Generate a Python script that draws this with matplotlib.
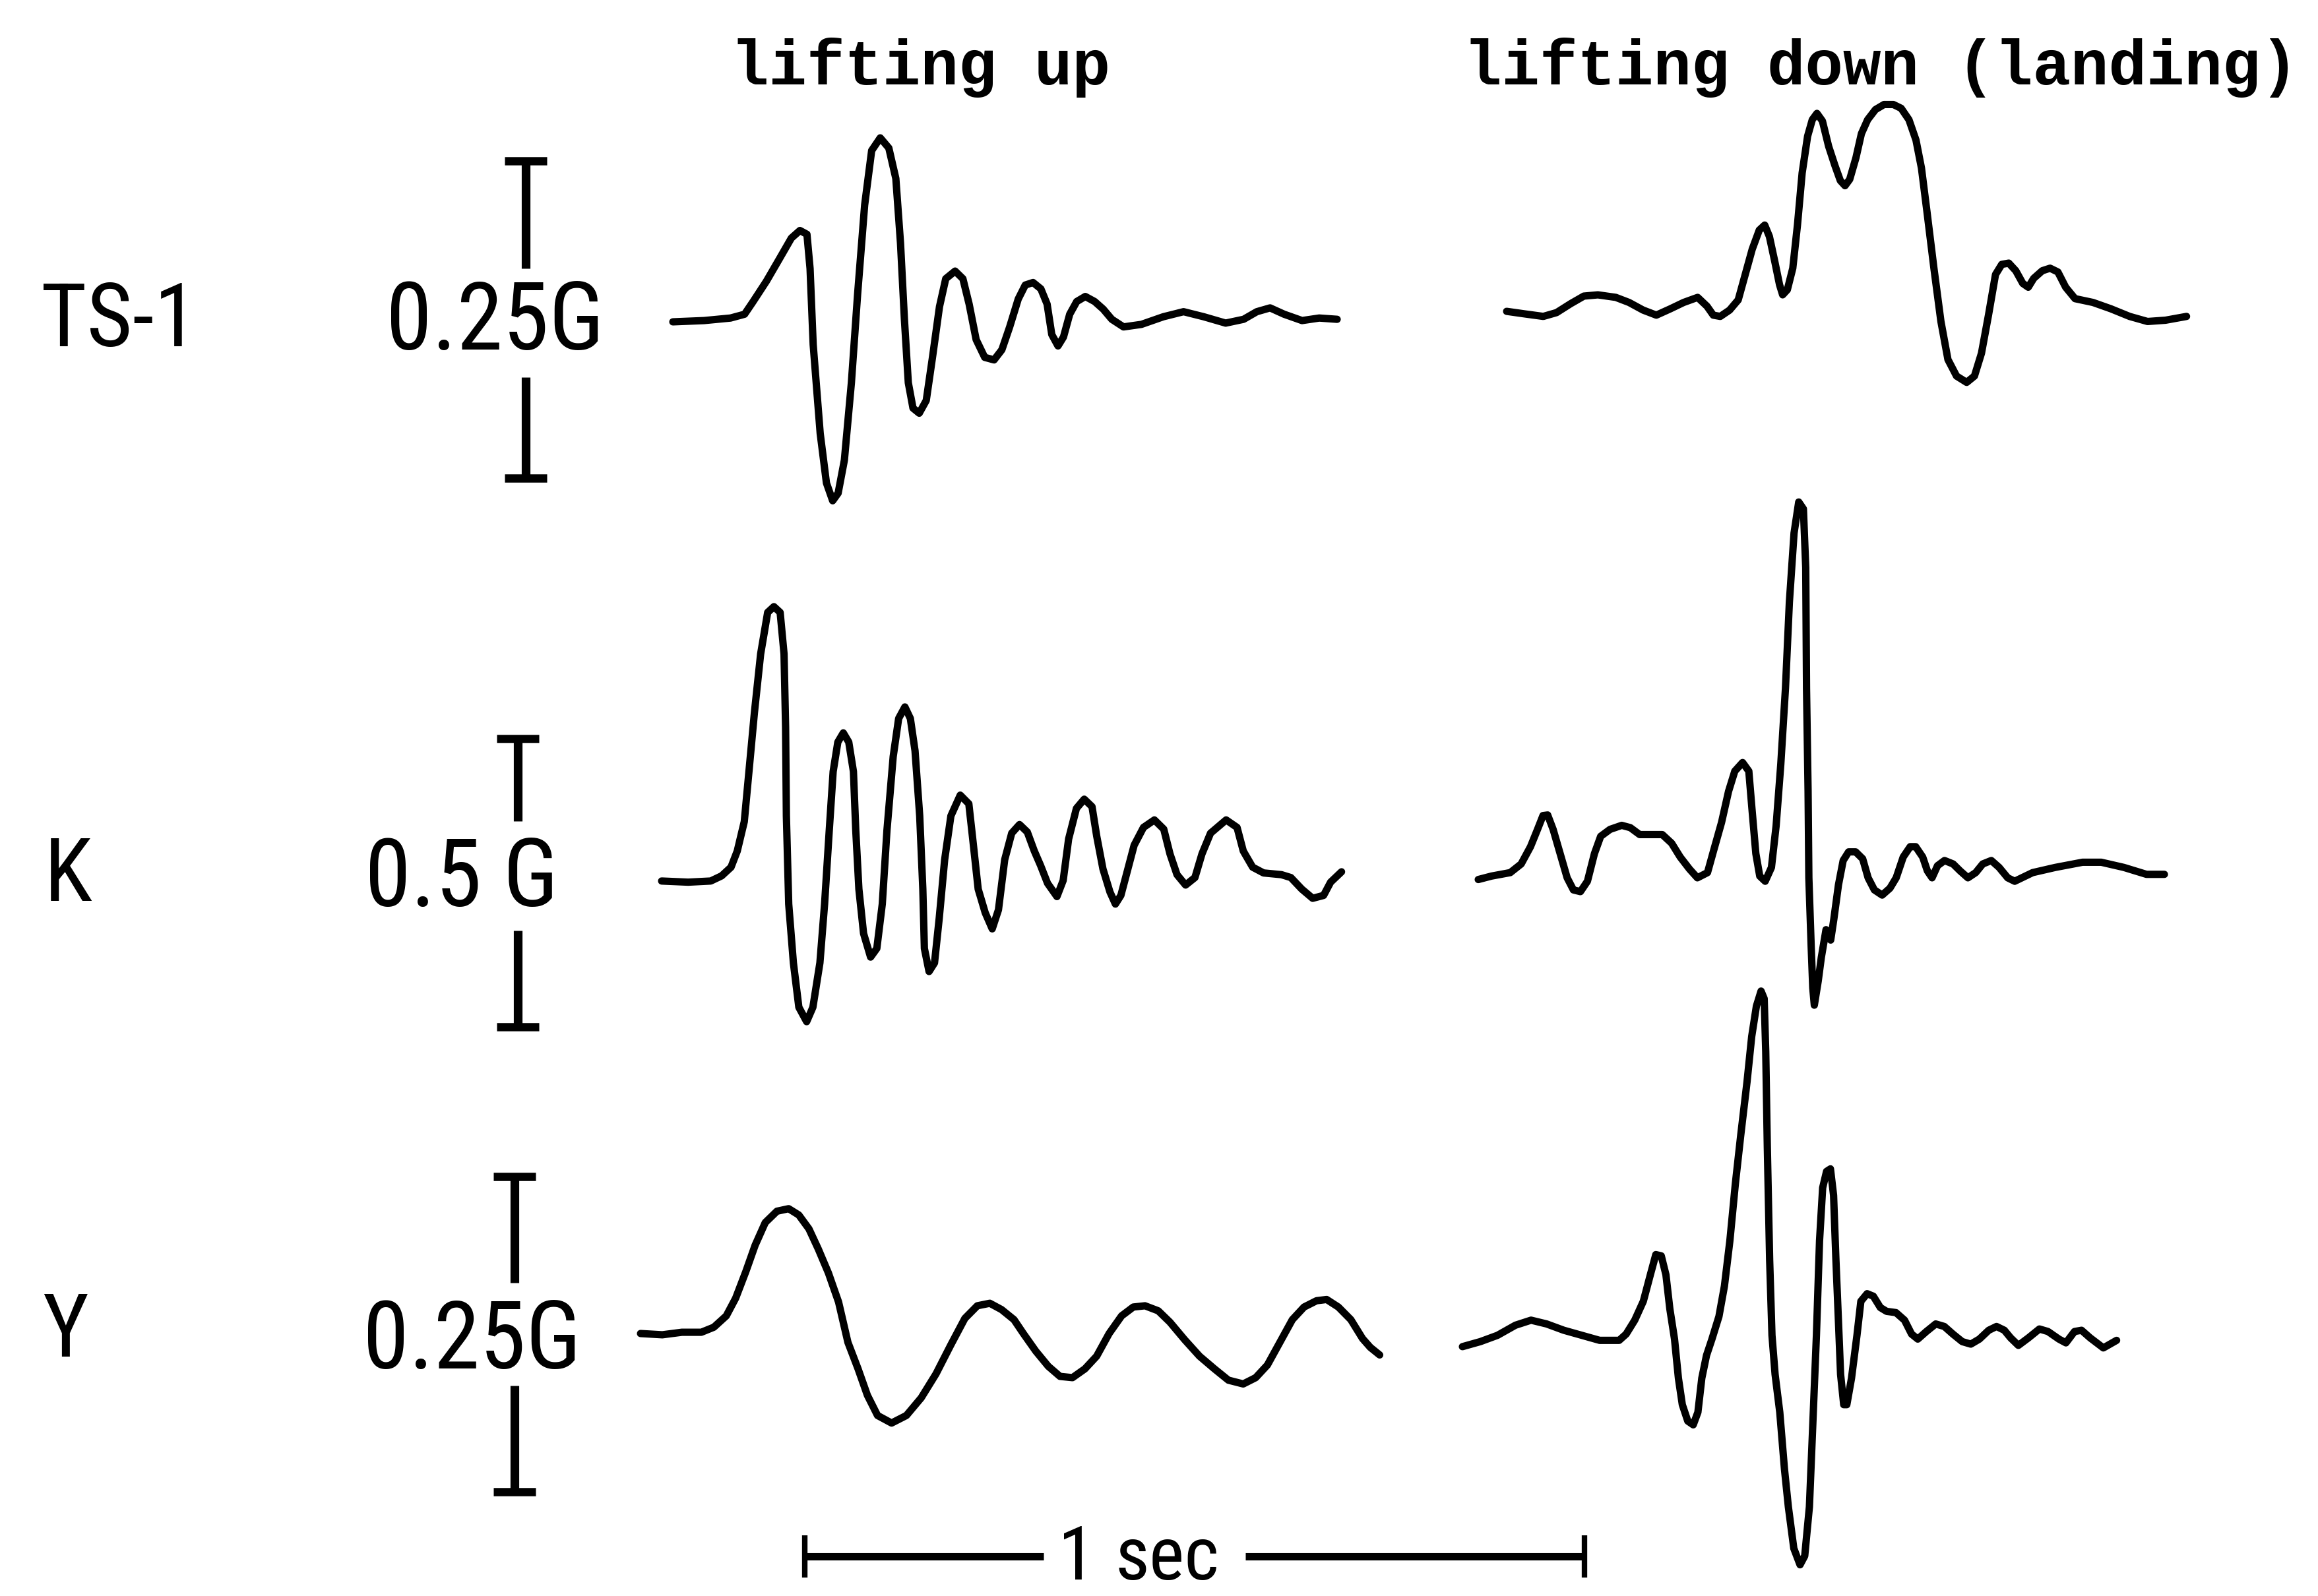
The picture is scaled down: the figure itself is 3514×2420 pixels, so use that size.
import numpy as np
import matplotlib
matplotlib.use("Agg")
import matplotlib.pyplot as plt
from matplotlib import font_manager as fm

# Acceleration records.
# time in s from the start of each trace, acceleration in G from its zero line

ts1_up_t = [0.000, 0.040, 0.074, 0.092, 0.103, 0.120, 0.137, 0.152, 0.163, 0.172,
            0.176, 0.180, 0.189, 0.197, 0.205, 0.212, 0.220, 0.229, 0.237, 0.246,
            0.255, 0.266, 0.277, 0.286, 0.292, 0.297, 0.302, 0.308, 0.316, 0.325,
            0.333, 0.342, 0.350, 0.362, 0.372, 0.380, 0.389, 0.400, 0.412, 0.422,
            0.432, 0.443, 0.452, 0.462, 0.472, 0.480, 0.486, 0.494, 0.501, 0.509,
            0.518, 0.529, 0.541, 0.552, 0.563, 0.578, 0.601, 0.629, 0.655, 0.681,
            0.709, 0.732, 0.749, 0.766, 0.784, 0.807, 0.829, 0.852]
ts1_up_g = [0.000, 0.001, 0.003, 0.006, 0.016, 0.032, 0.050, 0.066, 0.072, 0.069,
            0.042, -0.018, -0.088, -0.127, -0.141, -0.135, -0.109, -0.048, 0.022, 0.092,
            0.135, 0.145, 0.137, 0.113, 0.062, 0.002, -0.048, -0.068, -0.072, -0.062,
            -0.028, 0.012, 0.034, 0.040, 0.034, 0.014, -0.014, -0.028, -0.030, -0.022,
            -0.004, 0.018, 0.029, 0.031, 0.026, 0.014, -0.010, -0.019, -0.012, 0.006,
            0.016, 0.020, 0.016, 0.010, 0.002, -0.004, -0.002, 0.004, 0.008, 0.004,
            -0.001, 0.002, 0.008, 0.011, 0.006, 0.001, 0.003, 0.002]

ts1_down_t = [0.000, 0.023, 0.047, 0.064, 0.082, 0.099, 0.117, 0.140, 0.157, 0.175,
              0.192, 0.210, 0.227, 0.245, 0.257, 0.265, 0.274, 0.286, 0.297, 0.306,
              0.315, 0.324, 0.331, 0.337, 0.344, 0.350, 0.354, 0.360, 0.367, 0.373,
              0.379, 0.386, 0.392, 0.398, 0.405, 0.413, 0.421, 0.428, 0.434, 0.440,
              0.448, 0.455, 0.463, 0.473, 0.484, 0.496, 0.506, 0.516, 0.525, 0.532,
              0.539, 0.548, 0.557, 0.566, 0.577, 0.590, 0.600, 0.609, 0.618, 0.627,
              0.635, 0.644, 0.653, 0.662, 0.669, 0.676, 0.687, 0.697, 0.707, 0.717,
              0.729, 0.752, 0.775, 0.799, 0.822, 0.845, 0.872]
ts1_down_g = [0.001, -0.001, -0.003, 0.000, 0.007, 0.013, 0.014, 0.012, 0.008, 0.002,
              -0.002, 0.003, 0.008, 0.012, 0.005, -0.002, -0.003, 0.002, 0.010, 0.030,
              0.050, 0.065, 0.069, 0.060, 0.040, 0.022, 0.014, 0.018, 0.035, 0.069,
              0.110, 0.139, 0.152, 0.157, 0.151, 0.131, 0.116, 0.104, 0.100, 0.105,
              0.122, 0.141, 0.152, 0.160, 0.164, 0.164, 0.161, 0.152, 0.136, 0.114,
              0.080, 0.035, -0.007, -0.037, -0.050, -0.055, -0.050, -0.032, -0.002, 0.030,
              0.038, 0.039, 0.033, 0.023, 0.020, 0.027, 0.033, 0.035, 0.032, 0.020,
              0.011, 0.008, 0.003, -0.003, -0.007, -0.006, -0.003]

k_up_t = [0.000, 0.034, 0.063, 0.077, 0.089, 0.097, 0.106, 0.112, 0.119, 0.127,
          0.136, 0.144, 0.152, 0.157, 0.159, 0.160, 0.163, 0.169, 0.176, 0.186,
          0.194, 0.203, 0.209, 0.215, 0.220, 0.226, 0.233, 0.240, 0.246, 0.249,
          0.253, 0.259, 0.268, 0.276, 0.283, 0.289, 0.297, 0.304, 0.312, 0.319,
          0.325, 0.331, 0.335, 0.337, 0.343, 0.350, 0.356, 0.363, 0.371, 0.383,
          0.394, 0.399, 0.406, 0.415, 0.424, 0.432, 0.440, 0.449, 0.459, 0.469,
          0.478, 0.486, 0.495, 0.507, 0.515, 0.522, 0.532, 0.542, 0.552, 0.558,
          0.566, 0.575, 0.582, 0.589, 0.598, 0.606, 0.618, 0.632, 0.644, 0.652,
          0.661, 0.672, 0.684, 0.693, 0.704, 0.724, 0.738, 0.746, 0.758, 0.772,
          0.795, 0.807, 0.821, 0.835, 0.849, 0.858, 0.872]
k_up_g = [-0.001, -0.003, -0.001, 0.008, 0.023, 0.051, 0.102, 0.189, 0.291, 0.393,
          0.465, 0.475, 0.465, 0.393, 0.266, 0.112, -0.041, -0.143, -0.220, -0.245,
          -0.220, -0.143, -0.041, 0.087, 0.189, 0.240, 0.256, 0.240, 0.189, 0.087,
          -0.015, -0.092, -0.133, -0.118, -0.041, 0.087, 0.215, 0.281, 0.301, 0.281,
          0.225, 0.112, -0.015, -0.118, -0.158, -0.143, -0.066, 0.036, 0.112, 0.148,
          0.133, 0.072, -0.015, -0.056, -0.084, -0.051, 0.036, 0.082, 0.097, 0.084,
          0.051, 0.026, -0.005, -0.028, 0.000, 0.072, 0.125, 0.141, 0.128, 0.077,
          0.020, -0.020, -0.041, -0.026, 0.020, 0.061, 0.092, 0.105, 0.089, 0.046,
          0.010, -0.008, 0.005, 0.046, 0.082, 0.105, 0.092, 0.051, 0.023, 0.013,
          0.010, 0.005, -0.015, -0.031, -0.026, -0.003, 0.015]

k_down_t = [0.000, 0.017, 0.041, 0.055, 0.067, 0.076, 0.083, 0.089, 0.096, 0.105,
            0.114, 0.122, 0.131, 0.140, 0.149, 0.157, 0.169, 0.184, 0.195, 0.207,
            0.222, 0.236, 0.248, 0.259, 0.271, 0.281, 0.294, 0.302, 0.312, 0.321,
            0.329, 0.339, 0.347, 0.351, 0.356, 0.361, 0.368, 0.376, 0.382, 0.388,
            0.394, 0.399, 0.405, 0.411, 0.417, 0.420, 0.421, 0.423, 0.424, 0.427,
            0.429, 0.431, 0.436, 0.440, 0.446, 0.452, 0.456, 0.462, 0.468, 0.475,
            0.484, 0.493, 0.500, 0.508, 0.518, 0.528, 0.536, 0.545, 0.554, 0.561,
            0.570, 0.576, 0.582, 0.589, 0.598, 0.609, 0.618, 0.628, 0.638, 0.647,
            0.658, 0.668, 0.679, 0.688, 0.711, 0.740, 0.775, 0.799, 0.828, 0.857,
            0.880]
k_down_g = [-0.003, 0.003, 0.009, 0.024, 0.054, 0.084, 0.108, 0.109, 0.084, 0.042,
            0.000, -0.021, -0.024, -0.006, 0.042, 0.072, 0.084, 0.091, 0.087, 0.075,
            0.075, 0.075, 0.060, 0.036, 0.015, 0.000, 0.009, 0.048, 0.096, 0.150,
            0.185, 0.200, 0.185, 0.120, 0.042, 0.003, -0.006, 0.018, 0.090, 0.197,
            0.329, 0.478, 0.598, 0.652, 0.640, 0.538, 0.329, 0.150, 0.000, -0.120,
            -0.191, -0.221, -0.179, -0.138, -0.090, -0.108, -0.072, -0.012, 0.030, 0.045,
            0.045, 0.033, 0.000, -0.021, -0.030, -0.018, 0.000, 0.036, 0.054, 0.054,
            0.036, 0.012, 0.000, 0.021, 0.030, 0.024, 0.012, 0.000, 0.009, 0.024,
            0.030, 0.018, 0.000, -0.006, 0.009, 0.018, 0.027, 0.027, 0.018, 0.006,
            0.006]

y_up_t = [0.000, 0.028, 0.053, 0.078, 0.094, 0.110, 0.122, 0.135, 0.147, 0.160,
          0.175, 0.190, 0.203, 0.216, 0.228, 0.241, 0.254, 0.266, 0.279, 0.291,
          0.304, 0.322, 0.341, 0.360, 0.379, 0.398, 0.416, 0.432, 0.448, 0.463,
          0.479, 0.491, 0.507, 0.523, 0.538, 0.554, 0.570, 0.585, 0.601, 0.617,
          0.632, 0.647, 0.664, 0.679, 0.698, 0.717, 0.736, 0.754, 0.773, 0.789,
          0.804, 0.820, 0.836, 0.851, 0.867, 0.880, 0.895, 0.911, 0.926, 0.936,
          0.948]
y_up_g = [0.000, -0.001, 0.001, 0.001, 0.005, 0.014, 0.028, 0.049, 0.070, 0.088,
          0.097, 0.099, 0.094, 0.083, 0.067, 0.048, 0.025, -0.007, -0.028, -0.049,
          -0.065, -0.071, -0.065, -0.051, -0.032, -0.009, 0.012, 0.022, 0.024, 0.019,
          0.011, 0.000, -0.014, -0.026, -0.034, -0.035, -0.028, -0.018, 0.000, 0.014,
          0.021, 0.022, 0.018, 0.009, -0.005, -0.018, -0.028, -0.037, -0.040, -0.035,
          -0.025, -0.007, 0.011, 0.021, 0.026, 0.027, 0.021, 0.011, -0.004, -0.011,
          -0.017]

y_down_t = [0.000, 0.023, 0.045, 0.068, 0.088, 0.108, 0.130, 0.153, 0.176, 0.201,
            0.210, 0.221, 0.232, 0.241, 0.248, 0.255, 0.261, 0.266, 0.272, 0.277,
            0.282, 0.289, 0.296, 0.302, 0.307, 0.313, 0.320, 0.329, 0.336, 0.343,
            0.350, 0.357, 0.365, 0.371, 0.377, 0.383, 0.387, 0.389, 0.391, 0.394,
            0.397, 0.401, 0.407, 0.413, 0.418, 0.425, 0.433, 0.439, 0.445, 0.449,
            0.454, 0.458, 0.462, 0.467, 0.472, 0.476, 0.479, 0.482, 0.485, 0.489,
            0.493, 0.499, 0.506, 0.511, 0.519, 0.527, 0.536, 0.544, 0.556, 0.567,
            0.576, 0.584, 0.595, 0.607, 0.618, 0.629, 0.641, 0.652, 0.663, 0.675,
            0.685, 0.695, 0.703, 0.713, 0.726, 0.740, 0.751, 0.765, 0.774, 0.785,
            0.794, 0.805, 0.822, 0.839]
y_down_g = [-0.001, 0.003, 0.008, 0.016, 0.020, 0.017, 0.012, 0.008, 0.004, 0.004,
            0.009, 0.020, 0.035, 0.056, 0.072, 0.071, 0.056, 0.029, 0.005, -0.026,
            -0.047, -0.060, -0.063, -0.053, -0.026, -0.008, 0.005, 0.023, 0.047, 0.083,
            0.128, 0.167, 0.209, 0.245, 0.269, 0.281, 0.275, 0.233, 0.158, 0.068,
            0.008, -0.023, -0.053, -0.098, -0.128, -0.161, -0.174, -0.167, -0.128, -0.068,
            0.008, 0.083, 0.125, 0.138, 0.140, 0.119, 0.068, 0.023, -0.023, -0.047,
            -0.047, -0.026, 0.008, 0.035, 0.041, 0.039, 0.030, 0.027, 0.026, 0.020,
            0.009, 0.005, 0.011, 0.017, 0.015, 0.009, 0.003, 0.001, 0.005, 0.012,
            0.015, 0.012, 0.006, 0.000, 0.006, 0.013, 0.011, 0.005, 0.002, 0.011,
            0.012, 0.006, -0.002, 0.004]

row_names = ["TS-1", "K", "Y"]
row_scale_g = [0.25, 0.5, 0.25]
row_scale_labels = ["0.25G", "0.5 G", "0.25G"]
column_titles = ["lifting up", "lifting down (landing)"]
time_bar_s = 1.0

# ---- layout (pixels of the 3514 x 2420 page) ----
W, H = 3514, 2420
px_per_s = 1182.0
row_base = [485, 1338, 2023]          # zero line of each row
row_bar_px = [481, 437, 478]          # length of the G scale bar
row_bar_x = [797, 785, 780]
row_gap = [(407, 572), (1245, 1411), (1945, 2101)]   # where the bar breaks for its label
# (row, t, g, start x, own zero line)
traces = [
    (0, ts1_up_t, ts1_up_g, 1020, 488),
    (0, ts1_down_t, ts1_down_g, 2284, 474),
    (1, k_up_t, k_up_g, 1003, 1335),
    (1, k_down_t, k_down_g, 2241, 1331),
    (2, y_up_t, y_up_g, 971, 2022),
    (2, y_down_t, y_down_g, 2217, 2040),
]


def pick_narrow_font():
    # the lettering is a tall narrow sans; use whatever condensed face is installed
    names = {f.name for f in fm.fontManager.ttflist}
    for n in ["Liberation Sans Narrow", "Arial Narrow", "Roboto Condensed",
              "Noto Sans Condensed", "Open Sans Condensed", "DejaVu Sans Condensed"]:
        if n in names:
            return n, "normal"
    for want in ("condensed", "semi-condensed", "extra-condensed"):
        for f in fm.fontManager.ttflist:
            if (f.stretch == want and f.style == "normal"
                    and str(f.weight) in ("400", "normal", "regular", "book")
                    and "Mono" not in f.name and "Serif" not in f.name):
                return f.name, f.stretch
    return "DejaVu Sans", "normal"


label_family, label_stretch = pick_narrow_font()
label_font = [label_family, "DejaVu Sans"]
title_font = ["Liberation Mono", "DejaVu Sans Mono"]
ink = "black"

fig = plt.figure(figsize=(W / 100, H / 100), dpi=100)
fig.patch.set_facecolor("white")

# page axes for the lettering
lay = fig.add_axes([0, 0, 1, 1])
lay.set_xlim(0, W)
lay.set_ylim(H, 0)
lay.axis("off")

# one full-page axes per row: x in seconds, y in G
row_axes = []
for r in range(3):
    gpp = row_scale_g[r] / row_bar_px[r]
    ax = fig.add_axes([0, 0, 1, 1])
    ax.set_xlim(0, W / px_per_s)
    ax.set_ylim(-(H - row_base[r]) * gpp, row_base[r] * gpp)
    ax.axis("off")
    ax.patch.set_alpha(0)
    row_axes.append((ax, gpp))

for r, t, g, x0, base in traces:
    ax, gpp = row_axes[r]
    off = (row_base[r] - base) * gpp
    ax.plot(x0 / px_per_s + np.array(t), off + np.array(g), color=ink, lw=8,
            solid_joinstyle="round", solid_capstyle="round")

# G scale bars
cap = 32 / px_per_s
for r in range(3):
    ax, gpp = row_axes[r]
    xb = row_bar_x[r] / px_per_s
    half = row_scale_g[r] / 2
    g_top = (row_base[r] - row_gap[r][0]) * gpp
    g_bot = (row_base[r] - row_gap[r][1]) * gpp
    ax.plot([xb, xb], [half, g_top], color=ink, lw=9.5, solid_capstyle="butt")
    ax.plot([xb, xb], [g_bot, -half], color=ink, lw=9.5, solid_capstyle="butt")
    ax.plot([xb - cap, xb + cap], [half, half], color=ink, lw=9, solid_capstyle="butt")
    ax.plot([xb - cap, xb + cap], [-half, -half], color=ink, lw=9, solid_capstyle="butt")

# 1 sec bar under the bottom row, broken where the label sits
ax, gpp = row_axes[2]
sx0 = 1220 / px_per_s
sy = (row_base[2] - 2360) * gpp
tick = 32 * gpp
ax.plot([sx0, sx0 + 0.306 * time_bar_s], [sy, sy], color=ink, lw=8, solid_capstyle="butt")
ax.plot([sx0 + 0.565 * time_bar_s, sx0 + time_bar_s], [sy, sy], color=ink, lw=8,
        solid_capstyle="butt")
for xe in (sx0, sx0 + time_bar_s):
    ax.plot([xe, xe], [sy - tick, sy + tick], color=ink, lw=6, solid_capstyle="butt")

# lettering
lay.text(300, 525, row_names[0], family=label_font, stretch=label_stretch,
         fontsize=96, ha="right", va="baseline", color=ink)
lay.text(67, 1366, row_names[1], family=label_font, stretch=label_stretch,
         fontsize=96, ha="left", va="baseline", color=ink)
lay.text(64, 2057, row_names[2], family=label_font, stretch=label_stretch,
         fontsize=96, ha="left", va="baseline", color=ink)

scale_pos = [(750, 530), (700, 1374), (715, 2075)]
for r in range(3):
    lay.text(*scale_pos[r], row_scale_labels[r], family=label_font,
             stretch=label_stretch, fontsize=102, ha="center", va="baseline", color=ink)

lay.text(1108, 128, column_titles[0], family=title_font, fontsize=69,
         fontweight="bold", ha="left", va="baseline", color=ink)
lay.text(2219, 128, column_titles[1], family=title_font, fontsize=69,
         fontweight="bold", ha="left", va="baseline", color=ink)

lay.text(1632, 2395, "1", family=label_font, stretch=label_stretch, fontsize=82,
         ha="center", va="baseline", color=ink)
lay.text(1690, 2395, "sec", family=label_font, stretch=label_stretch, fontsize=82,
         ha="left", va="baseline", color=ink)

fig.savefig("out.png", dpi=100, facecolor="white")
